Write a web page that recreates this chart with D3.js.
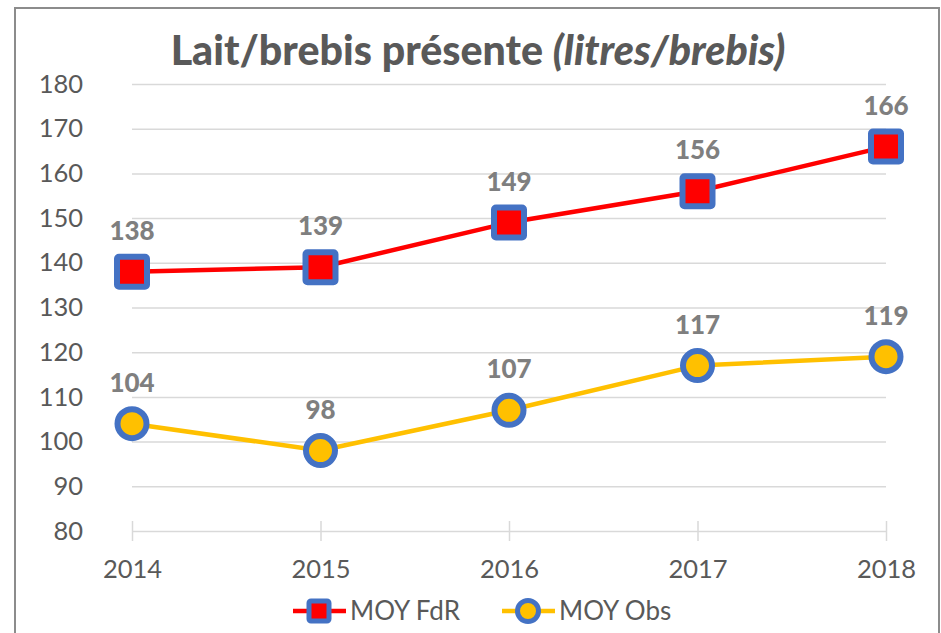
<!DOCTYPE html>
<html>
<head>
<meta charset="utf-8">
<script src="https://cdn.jsdelivr.net/npm/d3@7"></script>
<style>
  html, body { margin: 0; padding: 0; background: #fff; }
  svg { display: block; }
  text { font-family: Lato, "Open Sans", sans-serif; }
</style>
</head>
<body>
<svg id="chart" width="941" height="633"></svg>
<script>
const years = ["2014", "2015", "2016", "2017", "2018"];
const moyFdR = [138, 139, 149, 156, 166];
const moyObs = [104, 98, 107, 117, 119];
const yTicks = [80, 90, 100, 110, 120, 130, 140, 150, 160, 170, 180];
const seriesNames = ["MOY FdR", "MOY Obs"];
const titleMain = "Lait/brebis présente ";
const titleItalic = "(litres/brebis)";

const svg = d3.select("#chart");
const W = 941, H = 633;
const gray = "#595959", labelGray = "#7f7f7f", blue = "#4472C4";
const red = "#FF0000", yellow = "#FFC000", grid = "#d9d9d9";

// frame
svg.append("path")
  .attr("d", `M15,${H} V8 H939 V${H}`)
  .attr("fill", "none").attr("stroke", "#8c8c8c").attr("stroke-width", 2);

const x = d3.scalePoint().domain(years).range([132, 886]);
const y = d3.scaleLinear().domain([80, 180]).range([531, 84]);

// gridlines + y labels
const yAxis = svg.append("g")
  .attr("transform", "translate(132,0)")
  .call(d3.axisLeft(y).tickValues(yTicks).tickSize(-(886 - 132)).tickPadding(49).tickFormat(d3.format("d")));
yAxis.select(".domain").remove();
yAxis.selectAll(".tick line").attr("stroke", grid).attr("stroke-width", 1.5);
yAxis.selectAll(".tick text").attr("fill", gray).attr("font-size", 25.5).attr("font-family", "Lato, sans-serif");

// x axis ticks
const xAxis = svg.append("g")
  .attr("transform", `translate(0,${y(80)})`)
  .call(d3.axisBottom(x).tickSize(10).tickPadding(19));
xAxis.select(".domain").remove();
xAxis.selectAll(".tick line").attr("stroke", grid).attr("stroke-width", 1.5).attr("y1", -10);
xAxis.selectAll(".tick text").attr("fill", gray).attr("font-size", 25.5).attr("font-family", "Lato, sans-serif");

// title
const title = svg.append("text")
  .attr("x", 478).attr("y", 65).attr("text-anchor", "middle")
  .attr("fill", gray).attr("font-weight", 900).attr("font-size", 36);
title.append("tspan").text(titleMain);
title.append("tspan").attr("font-style", "italic").text(titleItalic);
const tw = title.node().getComputedTextLength();
title.attr("font-size", 36 * 615 / tw);

// lines
const line = d3.line().x((d, i) => x(years[i])).y(d => y(d));
svg.append("path").datum(moyFdR).attr("d", line)
  .attr("fill", "none").attr("stroke", red).attr("stroke-width", 4.5).attr("stroke-linejoin", "round");
svg.append("path").datum(moyObs).attr("d", line)
  .attr("fill", "none").attr("stroke", yellow).attr("stroke-width", 4.5).attr("stroke-linejoin", "round");

// markers
svg.selectAll(".sq").data(moyFdR).enter().append("rect")
  .attr("x", (d, i) => x(years[i]) - 15).attr("y", d => y(d) - 15)
  .attr("width", 30).attr("height", 30).attr("rx", 2)
  .attr("fill", red).attr("stroke", blue).attr("stroke-width", 6);
svg.selectAll(".ci").data(moyObs).enter().append("circle")
  .attr("cx", (d, i) => x(years[i])).attr("cy", d => y(d)).attr("r", 14.5)
  .attr("fill", yellow).attr("stroke", blue).attr("stroke-width", 6);

// data labels
function labels(data) {
  svg.append("g").selectAll("text").data(data).enter().append("text")
    .attr("x", (d, i) => x(years[i])).attr("y", d => y(d) - 32)
    .attr("text-anchor", "middle").attr("fill", labelGray)
    .attr("font-weight", 900).attr("font-size", 26).text(d => d);
}
labels(moyFdR);
labels(moyObs);

// legend
const ly = 611;
const leg = svg.append("g");
leg.append("line").attr("x1", 293).attr("x2", 346).attr("y1", ly).attr("y2", ly)
  .attr("stroke", red).attr("stroke-width", 4.5);
leg.append("rect").attr("x", 319 - 10).attr("y", ly - 10).attr("width", 20).attr("height", 20).attr("rx", 2)
  .attr("fill", red).attr("stroke", blue).attr("stroke-width", 5);
leg.append("text").attr("x", 350).attr("y", ly + 9).attr("fill", gray).attr("font-size", 26).text(seriesNames[0]);
leg.append("line").attr("x1", 502).attr("x2", 555).attr("y1", ly).attr("y2", ly)
  .attr("stroke", yellow).attr("stroke-width", 4.5);
leg.append("circle").attr("cx", 528).attr("cy", ly).attr("r", 10.5)
  .attr("fill", yellow).attr("stroke", blue).attr("stroke-width", 5);
leg.append("text").attr("x", 559).attr("y", ly + 9).attr("fill", gray).attr("font-size", 26).text(seriesNames[1]);
</script>
</body>
</html>
